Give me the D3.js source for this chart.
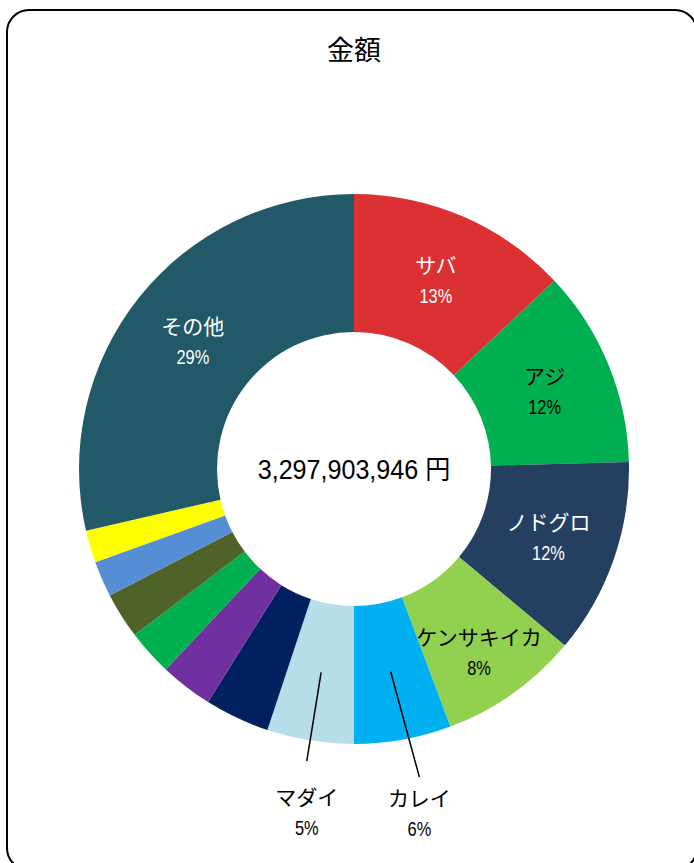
<!DOCTYPE html>
<html>
<head>
<meta charset="utf-8">
<script src="https://cdn.jsdelivr.net/npm/d3@7"></script>
<style>
  body { margin: 0; background: #fff; }
  .jp { font-family: "Noto Sans CJK JP", sans-serif; }
  .num { font-family: "Liberation Sans", "Noto Sans CJK JP", sans-serif; }
</style>
</head>
<body>
<div id="chart"></div>
<script>
const width = 694;
const height = 863;

// data (share of total amount, %)
const categories = ["サバ", "アジ", "ノドグロ", "ケンサキイカ", "カレイ", "マダイ", "", "", "", "", "", "", "その他"];
const shares = [13.0, 11.6, 11.5, 8.2, 5.7, 5.1, 3.8, 3.1, 2.7, 2.7, 2.1, 1.9, 28.6];
const colors = ["#DC3132", "#00AF50", "#253F61", "#92D050", "#00B0F0", "#B7DDE8", "#002060", "#7030A0", "#00B050", "#4F6228", "#558ED5", "#FFFF00", "#215968"];
const labelColors = ["#fff", "#000", "#fff", "#000", "#000", "#000", "", "", "", "", "", "", "#fff"];
const totalText = "3,297,903,946 円";
const title = "金額";

const cx = 354, cy = 469;
const outerR = 275, innerR = 137;

const svg = d3.select("#chart")
  .append("svg")
  .attr("width", width)
  .attr("height", height);

// frame
svg.append("rect")
  .attr("x", 7).attr("y", 10)
  .attr("width", 690).attr("height", 860)
  .attr("rx", 22).attr("ry", 22)
  .attr("fill", "#fff")
  .attr("stroke", "#000")
  .attr("stroke-width", 2);

svg.append("text")
  .attr("class", "jp")
  .attr("x", cx).attr("y", 60)
  .attr("text-anchor", "middle")
  .style("font-size", "27px")
  .text(title);

const data = categories.map((c, i) => ({ name: c, value: shares[i], color: colors[i], label: labelColors[i] }));

const pie = d3.pie().value((d) => d.value).sort(null);
const arc = d3.arc().innerRadius(innerR).outerRadius(outerR);
const arcs = pie(data);

const g = svg.append("g").attr("transform", "translate(" + cx + "," + cy + ")");

g.selectAll("path")
  .data(arcs)
  .enter()
  .append("path")
  .attr("d", arc)
  .attr("fill", (d) => d.data.color);

// condensed-looking percent text
function pct(sel, x, y, txt, fill) {
  sel.append("g")
    .attr("transform", "translate(" + x + "," + y + ") scale(0.82,1)")
    .append("text")
    .attr("class", "num")
    .attr("text-anchor", "middle")
    .style("font-size", "20px")
    .attr("fill", fill)
    .text(txt);
}

// labels inside the ring
const nudge = { "ケンサキイカ": [6, 15] };
const inside = arcs.filter((d) => d.data.name && d.data.value >= 8);
inside.forEach((d) => {
  const [x, y] = arc.centroid(d);
  const [nx, ny] = nudge[d.data.name] || [0, 0];
  const lg = g.append("g").attr("transform", "translate(" + (x + nx) + "," + (y + ny) + ")");
  lg.append("text")
    .attr("class", "jp")
    .attr("text-anchor", "middle")
    .attr("y", -7)
    .style("font-size", "21px")
    .attr("fill", d.data.label)
    .text(d.data.name);
  pct(lg, 0, 23, Math.round(d.data.value) + "%", d.data.label);
});

// callout labels for the small named slices
const callouts = { "マダイ": { r: 296, da: 0, dy: 44 }, "カレイ": { r: 315, da: -0.03, dy: 29 } };
const outside = arcs.filter((d) => d.data.name && d.data.value < 8);
outside.forEach((d) => {
  const [x0, y0] = arc.centroid(d);
  const c = callouts[d.data.name];
  const a = (d.startAngle + d.endAngle) / 2 + c.da;
  const x1 = c.r * Math.sin(a), y1 = -c.r * Math.cos(a);
  g.append("line")
    .attr("x1", x0).attr("y1", y0)
    .attr("x2", x1).attr("y2", y1)
    .attr("stroke", "#000")
    .attr("stroke-width", 1.5);
  g.append("text")
    .attr("class", "jp")
    .attr("x", x1).attr("y", y1 + c.dy)
    .attr("text-anchor", "middle")
    .style("font-size", "21px")
    .text(d.data.name);
  pct(g, x1, y1 + c.dy + 30, Math.round(d.data.value) + "%", "#000");
});

g.append("g")
  .attr("transform", "translate(0,10) scale(0.93,1)")
  .append("text")
  .attr("text-anchor", "middle")
  .style("font-size", "27px")
  .style("font-family", "Liberation Sans, Noto Sans CJK JP, sans-serif")
  .text(totalText);
</script>
</body>
</html>
